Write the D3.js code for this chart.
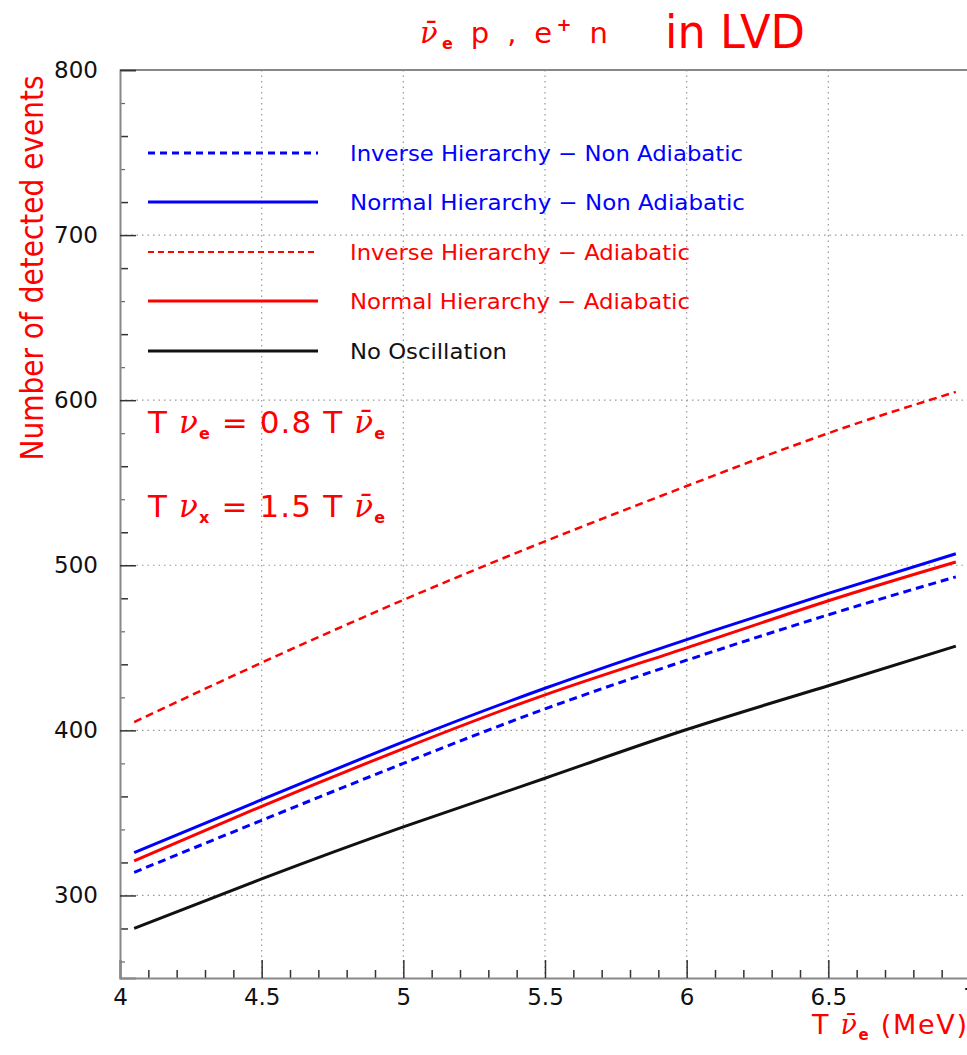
<!DOCTYPE html>
<html>
<head>
<meta charset="utf-8">
<script src="https://cdn.jsdelivr.net/npm/d3@7"></script>
<style>
  body { margin: 0; background: #fff; }
  svg text { font-family: "DejaVu Sans", sans-serif; }
</style>
</head>
<body>
<div id="chart"></div>
<script>
var svgWidth = 967;
var svgHeight = 1055;

// data
var temps = [4.05, 4.5, 5, 5.5, 6, 6.5, 6.95];
var invNonAdiab = [314, 345.5, 380, 413, 442.5, 470, 493];
var normNonAdiab = [326, 358, 393, 425.5, 455, 483, 507];
var invAdiab = [405, 441, 479, 514.5, 548, 580, 605];
var normAdiab = [321, 354, 389, 421.5, 450, 478.5, 502];
var noOsc = [280, 310, 341.5, 371, 400.5, 427, 451];

var xTicks = [4, 4.5, 5, 5.5, 6, 6.5, 7];
var yTicks = [300, 400, 500, 600, 700, 800];
var seriesNames = [
  "Inverse Hierarchy \u2212 Non Adiabatic",
  "Normal Hierarchy \u2212 Non Adiabatic",
  "Inverse Hierarchy \u2212 Adiabatic",
  "Normal Hierarchy \u2212 Adiabatic",
  "No Oscillation"
];

var margin = { top: 70, right: -3, bottom: 77, left: 120 };
var width = svgWidth - margin.left - margin.right;
var height = svgHeight - margin.top - margin.bottom;

var svg = d3.select("#chart")
  .append("svg")
  .attr("width", svgWidth)
  .attr("height", svgHeight);

var chartGroup = svg.append("g")
  .attr("transform", `translate(${margin.left}, ${margin.top})`);

var x = d3.scaleLinear().domain([4, 7]).range([0, width]);
var y = d3.scaleLinear().domain([250, 800]).range([height, 0]);

// grid
chartGroup.selectAll(".vgrid")
  .data(xTicks.slice(1, -1))
  .enter().append("line")
  .attr("x1", d => x(d)).attr("x2", d => x(d))
  .attr("y1", 0).attr("y2", height)
  .attr("stroke", "#999").attr("stroke-width", 1.2)
  .attr("stroke-dasharray", "1.5,4");
chartGroup.selectAll(".hgrid")
  .data(yTicks.slice(0, -1))
  .enter().append("line")
  .attr("x1", 0).attr("x2", width)
  .attr("y1", d => y(d)).attr("y2", d => y(d))
  .attr("stroke", "#999").attr("stroke-width", 1.2)
  .attr("stroke-dasharray", "1.5,4");

// frame top
chartGroup.append("line")
  .attr("x1", 0).attr("x2", width).attr("y1", 0).attr("y2", 0)
  .attr("stroke", "#888").attr("stroke-width", 2);

// x axis, ticks pointing up
var xMinor = d3.range(40, 71).map(d => d / 10).filter(d => Math.round(d * 10) % 5 != 0);
chartGroup.append("g")
  .attr("transform", `translate(0, ${height})`)
  .call(d3.axisBottom(x).tickValues(xMinor).tickSize(-8).tickFormat(""))
  .call(g => g.select(".domain").remove())
  .call(g => g.selectAll("line").attr("stroke", "#333").attr("stroke-width", 1.5));
chartGroup.append("g")
  .attr("transform", `translate(0, ${height})`)
  .call(d3.axisBottom(x).tickValues(xTicks).tickSize(-18).tickPadding(11).tickFormat(d3.format("")))
  .call(g => g.select(".domain").attr("stroke", "#888").attr("stroke-width", 2))
  .call(g => g.selectAll("line").attr("stroke", "#333").attr("stroke-width", 1.5))
  .call(g => g.selectAll("text").attr("font-size", 23).attr("fill", "#111")
    .attr("font-family", "DejaVu Sans"));

// y axis, ticks pointing right
var yMinor = d3.range(260, 800, 20).filter(d => d % 100 != 0);
chartGroup.append("g")
  .call(d3.axisLeft(y).tickValues(yMinor.filter(d => d % 40 == 0)).tickSize(-8).tickFormat(""))
  .call(g => g.select(".domain").remove())
  .call(g => g.selectAll("line").attr("stroke", "#333").attr("stroke-width", 1.5));
chartGroup.append("g")
  .call(d3.axisLeft(y).tickValues(yMinor.filter(d => d % 40 != 0)).tickSize(-5).tickFormat(""))
  .call(g => g.select(".domain").remove())
  .call(g => g.selectAll("line").attr("stroke", "#666").attr("stroke-width", 1.2));
chartGroup.append("g")
  .call(d3.axisLeft(y).tickValues(yTicks).tickSize(-16).tickPadding(22).tickFormat(d3.format("")))
  .call(g => g.select(".domain").attr("stroke", "#888").attr("stroke-width", 2))
  .call(g => g.selectAll("line").attr("stroke", "#333").attr("stroke-width", 1.5))
  .call(g => g.selectAll("text").attr("font-size", 23).attr("fill", "#111")
    .attr("font-family", "DejaVu Sans"));

// curves
var series = [
  { values: invNonAdiab, color: "#0000ff", dash: "8,5", w: 3 },
  { values: normNonAdiab, color: "#0000ff", dash: null, w: 3 },
  { values: invAdiab, color: "#ff0000", dash: "8,5", w: 2.5 },
  { values: normAdiab, color: "#ff0000", dash: null, w: 3 },
  { values: noOsc, color: "#111", dash: null, w: 3 }
];

var line = d3.line()
  .x(d => x(d[0]))
  .y(d => y(d[1]))
  .curve(d3.curveNatural);

chartGroup.selectAll(".curve")
  .data(series)
  .enter().append("path")
  .attr("class", "curve")
  .attr("d", s => line(temps.map((t, i) => [t, s.values[i]])))
  .attr("fill", "none")
  .attr("stroke", s => s.color)
  .attr("stroke-width", s => s.w)
  .attr("stroke-dasharray", s => s.dash);

// legend
var legend = svg.append("g");
var legendY = [153, 202, 252, 301, 351];
var legendLen = [393, 395, 340, 340, 157];
legend.selectAll("line")
  .data(series)
  .enter().append("line")
  .attr("x1", 148).attr("x2", 318)
  .attr("y1", (d, i) => legendY[i]).attr("y2", (d, i) => legendY[i])
  .attr("stroke", d => d.color)
  .attr("stroke-width", (d, i) => i == 2 ? 1.8 : 3)
  .attr("stroke-dasharray", (d, i) => i == 0 ? "7,5" : (i == 2 ? "6,4" : null));
legend.selectAll("text")
  .data(series)
  .enter().append("text")
  .attr("x", 350)
  .attr("y", (d, i) => legendY[i] + 8)
  .attr("font-size", 21)
  .attr("fill", d => d.color)
  .attr("textLength", (d, i) => legendLen[i])
  .attr("lengthAdjust", "spacingAndGlyphs")
  .text((d, i) => seriesNames[i]);

// annotations
var ann = svg.append("g").attr("fill", "#ff0000").attr("font-size", 31);
var a1 = ann.append("text").attr("x", 148).attr("y", 433)
  .attr("textLength", 237).attr("lengthAdjust", "spacing");
a1.append("tspan").text("T ");
a1.append("tspan").attr("font-family", "DejaVu Serif").attr("font-style", "italic").text("\u03bd");
a1.append("tspan").attr("font-size", 16).attr("font-weight", "bold").attr("dy", 6).text("e");
a1.append("tspan").attr("dy", -6).text(" = 0.8  T ");
a1.append("tspan").attr("font-family", "DejaVu Serif").attr("font-style", "italic").text("\u03bd\u0304");
a1.append("tspan").attr("font-size", 16).attr("font-weight", "bold").attr("dy", 6).text("e");

var a2 = ann.append("text").attr("x", 148).attr("y", 517)
  .attr("textLength", 237).attr("lengthAdjust", "spacing");
a2.append("tspan").text("T ");
a2.append("tspan").attr("font-family", "DejaVu Serif").attr("font-style", "italic").text("\u03bd");
a2.append("tspan").attr("font-size", 16).attr("font-weight", "bold").attr("dy", 6).text("x");
a2.append("tspan").attr("dy", -6).text(" = 1.5  T ");
a2.append("tspan").attr("font-family", "DejaVu Serif").attr("font-style", "italic").text("\u03bd\u0304");
a2.append("tspan").attr("font-size", 16).attr("font-weight", "bold").attr("dy", 6).text("e");

// title
var title = svg.append("text").attr("x", 420).attr("y", 43).attr("fill", "#ff0000").attr("font-size", 29)
  .attr("textLength", 188).attr("lengthAdjust", "spacing");
title.append("tspan").attr("font-family", "DejaVu Serif").attr("font-style", "italic").text("\u03bd\u0304");
title.append("tspan").attr("font-size", 16).attr("font-weight", "bold").attr("dy", 6).text("e");
title.append("tspan").attr("dy", -6).text(" p , e");
title.append("tspan").attr("font-size", 18).attr("font-weight", "bold").attr("dy", -12).text("+");
title.append("tspan").attr("dy", 12).text(" n");

svg.append("text")
  .attr("x", 665).attr("y", 48)
  .attr("fill", "#ff0000")
  .attr("font-size", 47)
  .attr("textLength", 140)
  .attr("lengthAdjust", "spacingAndGlyphs")
  .text("in LVD");

// axis titles
svg.append("text")
  .attr("transform", "translate(43, 268) rotate(-90)")
  .attr("text-anchor", "middle")
  .attr("fill", "#ff0000")
  .attr("font-size", 32)
  .attr("textLength", 385)
  .attr("lengthAdjust", "spacingAndGlyphs")
  .text("Number of detected events");

var xt = svg.append("text").attr("x", 812).attr("y", 1034).attr("fill", "#ff0000").attr("font-size", 27)
  .attr("textLength", 155).attr("lengthAdjust", "spacing");
xt.append("tspan").text("T ");
xt.append("tspan").attr("font-family", "DejaVu Serif").attr("font-style", "italic").text("\u03bd\u0304");
xt.append("tspan").attr("font-size", 15).attr("font-weight", "bold").attr("dy", 6).text("e");
xt.append("tspan").attr("dy", -6).text(" (MeV)");
</script>
</body>
</html>
